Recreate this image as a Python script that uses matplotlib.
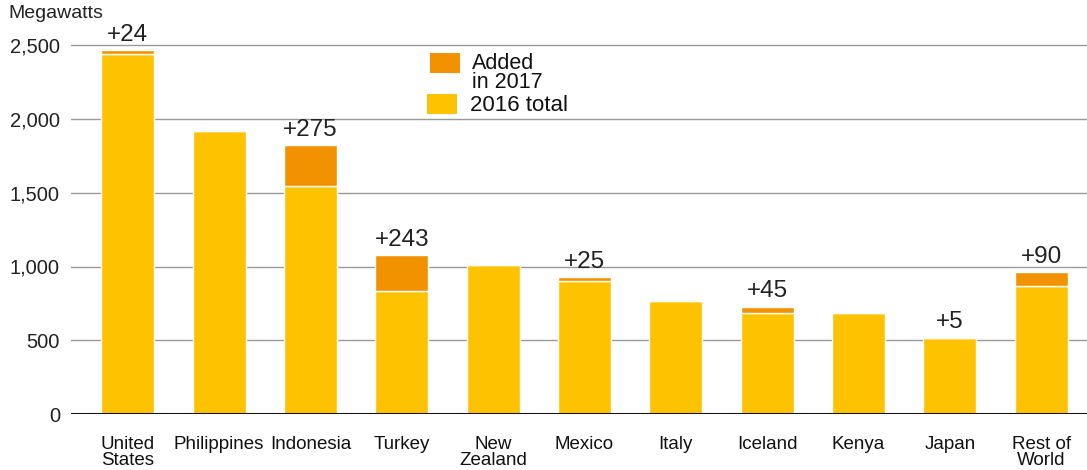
import numpy as np
import matplotlib
matplotlib.use("Agg")
import matplotlib.pyplot as plt
from matplotlib.patches import Rectangle

countries = ["United\nStates", "Philippines", "Indonesia", "Turkey", "New\nZealand",
             "Mexico", "Italy", "Iceland", "Kenya", "Japan", "Rest of\nWorld"]
total_2016 = [2442, 1916, 1548, 833, 1008, 902, 767, 683, 686, 516, 870]
added_2017 = [24, 0, 275, 243, 0, 25, 0, 45, 0, 5, 90]
yticks = [0, 500, 1000, 1500, 2000, 2500]

yellow = "#FEC200"
orange = "#F29200"

plt.rcParams["font.family"] = ["Liberation Sans", "DejaVu Sans"]

W, H = 1087, 470
fig = plt.figure(figsize=(W / 100, H / 100), dpi=100)
ax = fig.add_axes([71 / W, 1 - 414 / H, 1 - 71 / W, 398.25 / H])

x = np.arange(len(countries))
ax.bar(x, total_2016, width=0.58, color=yellow, edgecolor="white", linewidth=1.0, zorder=3)
ax.bar(x, added_2017, bottom=total_2016, width=0.58, color=orange,
       edgecolor="white", linewidth=1.0, zorder=3)

for xi, base, add in zip(x, total_2016, added_2017):
    if add > 0:
        ax.annotate("+%d" % add, (xi, base + add), xytext=(0, 3), textcoords="offset points",
                    ha="center", va="bottom", fontsize=17.5, color="#222222", zorder=5)

ax.set_xlim(-0.62, 10.5)
ax.set_ylim(0, 2700)
ax.set_yticks(yticks)
ax.set_yticklabels(["{:,}".format(v) for v in yticks], fontsize=14.5, color="#222222")
ax.set_xticks(x)
ax.set_xticklabels(countries, fontsize=13.5, color="#111111", linespacing=0.9)
ax.tick_params(axis="y", length=0, pad=8)
ax.tick_params(axis="x", length=0, pad=16)

for v in yticks[1:]:
    ax.axhline(v, color="#999999", linewidth=1, zorder=1)
ax.axhline(0, color="#111111", linewidth=2.2, zorder=4)
for s in ax.spines.values():
    s.set_visible(False)

fig.text(8 / W, 1 - 13 / H, "Megawatts", fontsize=14, color="#222222", va="center")

# legend drawn by hand (figure pixel positions)
fig.patches.append(Rectangle((430 / W, 1 - 73 / H), 30 / W, 20 / H, facecolor=orange,
                             transform=fig.transFigure, figure=fig))
fig.patches.append(Rectangle((427 / W, 1 - 114 / H), 30 / W, 20 / H, facecolor=yellow,
                             transform=fig.transFigure, figure=fig))
fig.text(472 / W, 1 - 88 / H, "Added\nin 2017", fontsize=15.5, color="#111111",
         va="baseline", ha="left", linespacing=0.88)
fig.text(470 / W, 1 - 111 / H, "2016 total", fontsize=16, color="#111111",
         va="baseline", ha="left")

fig.savefig("out.png", dpi=100)
